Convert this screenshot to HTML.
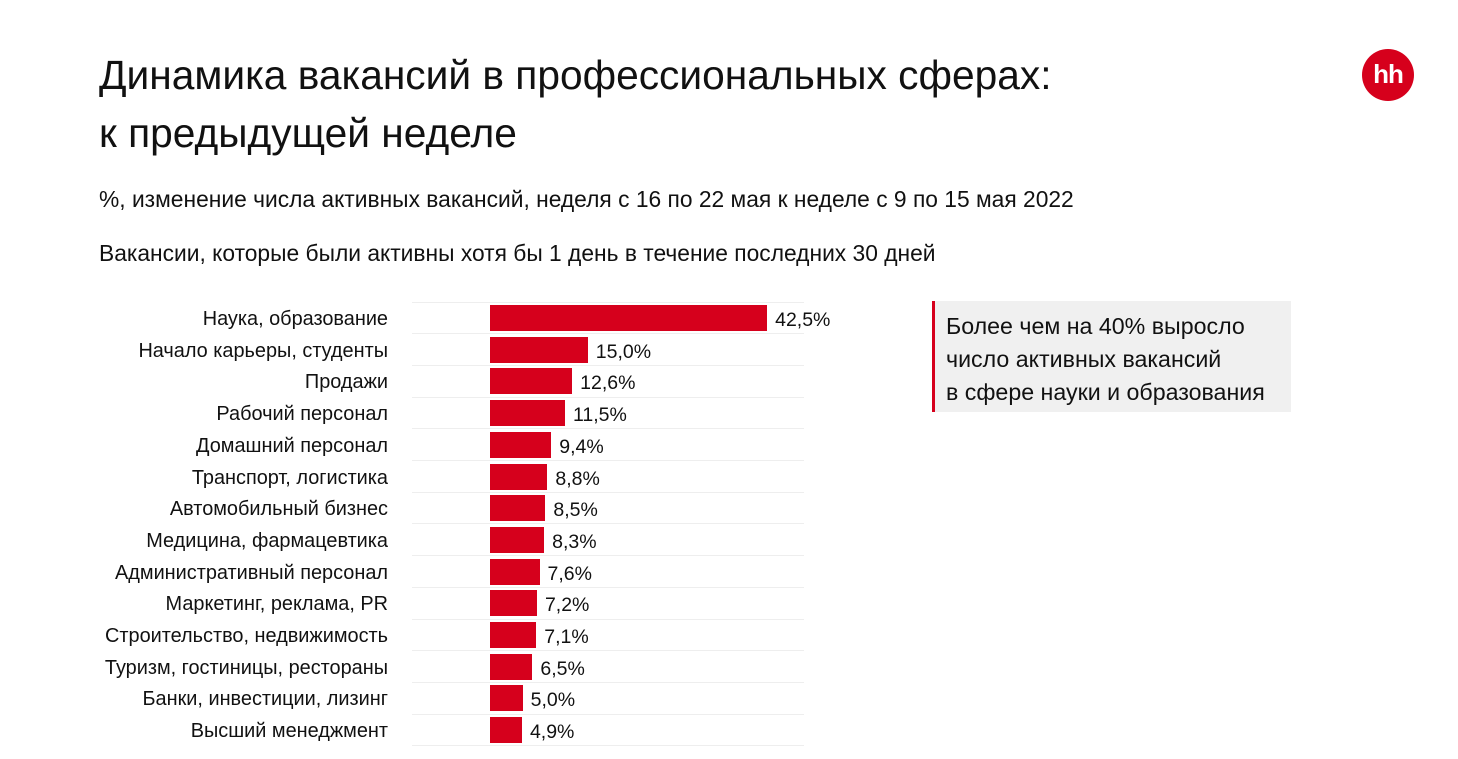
<!DOCTYPE html><html><head><meta charset="utf-8"><style>
body{margin:0;width:1458px;height:759px;background:#fff;font-family:"Liberation Sans",sans-serif;color:#111;position:relative;overflow:hidden}
.a{position:absolute;white-space:nowrap}
.t{left:99px;font-size:40.7px;line-height:46px}
.lbl{position:absolute;right:1070px;font-size:19.9px;line-height:22px;text-align:right}
.bar{position:absolute;left:490px;height:26px;background:#d6001c}
.v{position:absolute;font-size:19.5px;line-height:22px}
.g{position:absolute;left:412px;width:392px;height:1px;background:#eee}
</style></head><body>
<div class="a t" style="top:52px">Динамика вакансий в профессиональных сферах:</div>
<div class="a t" style="top:110px">к предыдущей неделе</div>
<div class="a" style="left:99px;top:186px;font-size:22.8px">%, изменение числа активных вакансий, неделя с 16 по 22 мая к неделе с 9 по 15 мая 2022</div>
<div class="a" style="left:99px;top:240px;font-size:22.8px">Вакансии, которые были активны хотя бы 1 день в течение последних 30 дней</div>
<div class="a" style="left:1362px;top:49px;width:52px;height:52px;border-radius:50%;background:#d6001c;color:#fff;font-weight:bold;font-size:26px;line-height:50px;text-align:center;letter-spacing:-1px">hh</div>
<div class="a" style="left:932px;top:301px;width:356px;height:111px;background:#f0f0f0;border-left:3px solid #d6001c"></div>
<div class="a" style="left:946px;top:310px;font-size:23.2px;line-height:33px;white-space:nowrap">Более чем на 40% выросло<br>число активных вакансий<br>в сфере науки и образования</div>
<div id="c"></div>
<script>
var d=[["Наука, образование",42.5],["Начало карьеры, студенты",15.0],["Продажи",12.6],["Рабочий персонал",11.5],["Домашний персонал",9.4],["Транспорт, логистика",8.8],["Автомобильный бизнес",8.5],["Медицина, фармацевтика",8.3],["Административный персонал",7.6],["Маркетинг, реклама, PR",7.2],["Строительство, недвижимость",7.1],["Туризм, гостиницы, рестораны",6.5],["Банки, инвестиции, лизинг",5.0],["Высший менеджмент",4.9]];
var h="";d.forEach(function(r,i){var c=318+i*31.7,w=r[1]*6.52;
h+='<div class="g" style="top:'+(c-16.5)+'px"></div>';
h+='<div class="lbl" style="top:'+(c-10)+'px">'+r[0]+'</div>';
h+='<div class="bar" style="top:'+(c-13)+'px;width:'+w+'px"></div>';
h+='<div class="v" style="left:'+(490+w+8)+'px;top:'+(c-9)+'px">'+r[1].toFixed(1).replace(".",",")+'%</div>';});
h+='<div class="g" style="top:'+(318+14*31.7-16.5)+'px"></div>';
document.getElementById("c").innerHTML=h;
</script>
</body></html>
